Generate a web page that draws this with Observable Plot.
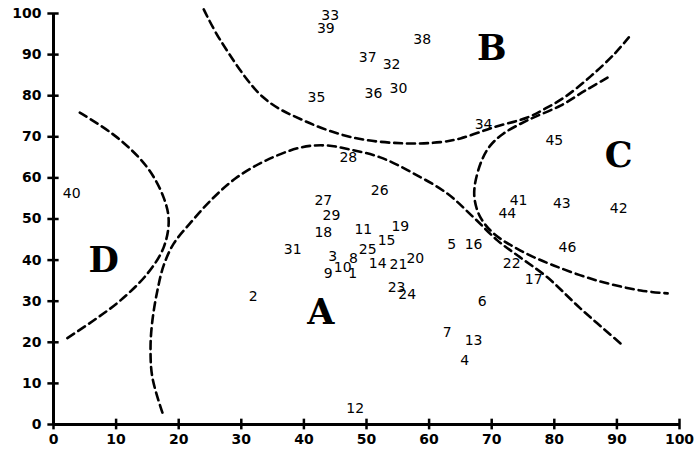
<!DOCTYPE html>
<html>
<head>
<meta charset="utf-8">
<script src="https://cdn.jsdelivr.net/npm/d3@7"></script>
<script src="https://cdn.jsdelivr.net/npm/@observablehq/plot@0.6"></script>
<style>
  html, body { margin: 0; padding: 0; background: #fff; }
  #chart svg { display: block; }
</style>
</head>
<body>
<div id="chart"></div>
<script>
// Numbered points (label, x, y)
const pointLabels = ["1","2","3","4","5","6","7","8","9","10","11","12","13","14","15","16","17","18","19","20","21","22","23","24","25","26","27","28","29","30","31","32","33","34","35","36","37","38","39","40","41","42","43","44","45","46"];
const pointX = [47.8,31.9,44.6,65.7,63.6,68.5,62.9,47.9,43.9,46.2,49.5,48.2,67.1,51.8,53.2,67.1,76.7,43.1,55.4,57.8,55.1,73.2,54.8,56.5,50.2,52.1,43.1,47.1,44.4,55.1,38.2,54.0,44.2,68.7,42.0,51.1,50.2,58.9,43.5,2.9,74.3,90.3,81.2,72.5,80.0,82.1];
const pointY = [36.7,31.1,40.9,15.6,43.8,29.9,22.4,40.4,36.7,38.2,47.4,3.9,20.4,39.2,44.8,43.8,35.3,46.7,48.2,40.4,38.9,39.2,33.3,31.6,42.6,56.9,54.5,65.0,50.9,81.8,42.6,87.6,99.5,73.0,79.6,80.5,89.3,93.7,96.4,56.2,54.5,52.6,53.8,51.3,69.1,43.1];

// Region letters
const regionNames = ["A","B","C","D"];
const regionX = [42.7,70.0,90.3,8.0];
const regionY = [27.3,91.5,65.4,39.9];

// Dashed boundary curves [x, y]
const curveA = [[17.4,2.9],[15.8,11.4],[15.5,18.7],[15.8,25.3],[16.6,32.6],[17.6,38.7],[19.2,44.0],[21.9,49.1],[25.1,54.5],[29.1,59.9],[33.9,64.2],[39.5,67.4],[43.5,67.9],[47.4,66.9],[52.2,65.0],[57.5,61.1],[62.9,56.2],[67.1,50.4],[70.9,44.8],[74.6,40.6],[78.9,35.8],[84.2,28.2],[90.6,19.7]];
const curveB = [[24.0,101.0],[26.7,93.4],[33.5,79.6],[39.9,74.0],[47.9,69.8],[55.9,68.4],[61.8,68.7],[65.0,69.6],[70.3,72.3],[75.7,74.7],[78.6,76.9],[81.8,79.8],[85.8,84.7],[89.5,90.0],[91.9,94.2]];
const curveC = [[88.5,84.4],[85.0,81.3],[81.0,77.6],[75.7,74.0],[71.9,70.8],[69.8,67.9],[68.4,64.2],[67.3,58.2],[67.3,54.5],[68.2,50.4],[70.3,46.5],[74.6,42.3],[79.9,38.7],[86.9,35.0],[93.8,32.6],[98.1,31.9]];
const curveD = [[4.2,75.9],[10.2,69.8],[15.0,62.5],[17.6,55.2],[18.4,49.6],[17.6,43.1],[15.0,36.7],[10.7,30.2],[6.4,25.3],[1.6,20.4]];

// Axis ticks
const xTicks = [0,10,20,30,40,50,60,70,80,90,100];
const yTicks = [0,10,20,30,40,50,60,70,80,90,100];

const points = pointLabels.map((l, i) => ({label: l, x: pointX[i], y: pointY[i]}));
const regions = regionNames.map((n, i) => ({name: n, x: regionX[i], y: regionY[i]}));
const curves = [curveA, curveB, curveC, curveD];

const dashStyle = {x: d => d[0], y: d => d[1], stroke: "#000", strokeWidth: 2.6, strokeDasharray: "8,5", curve: "catmull-rom"};

const chart = Plot.plot({
  width: 697,
  height: 456,
  marginLeft: 53,
  marginRight: 18,
  marginTop: 13,
  marginBottom: 32,
  style: {background: "#fff", color: "#000", fontFamily: "DejaVu Sans"},
  x: {domain: [0, 100]},
  y: {domain: [0, 100]},
  marks: [
    ...curves.map(c => Plot.line(c, dashStyle)),
    Plot.text(points, {x: "x", y: "y", text: "label", fontSize: 14, fill: "#000", textAnchor: "middle", lineAnchor: "middle", fontFamily: "DejaVu Sans"}),
    Plot.text(regions, {x: "x", y: "y", text: "name", fontSize: 35, fontWeight: "bold", fill: "#000", textAnchor: "middle", lineAnchor: "middle", fontFamily: "DejaVu Serif"}),
    Plot.ruleY([0], {stroke: "#000", strokeWidth: 3}),
    Plot.ruleX([0], {stroke: "#000", strokeWidth: 3}),
    Plot.ruleX(xTicks, {x: d => d, y1: -1.3, y2: 1.3, stroke: "#000", strokeWidth: 2.5}),
    Plot.ruleY(yTicks, {y: d => d, x1: -0.9, x2: 0.9, stroke: "#000", strokeWidth: 2.5}),
    Plot.axisX({ticks: xTicks, tickSize: 0, tickPadding: 10, fontSize: 14, fontWeight: "bold", label: null}),
    Plot.axisY({ticks: yTicks, tickSize: 0, tickPadding: 12, fontSize: 14, fontWeight: "bold", label: null})
  ]
});
document.getElementById("chart").appendChild(chart);
</script>
</body>
</html>
